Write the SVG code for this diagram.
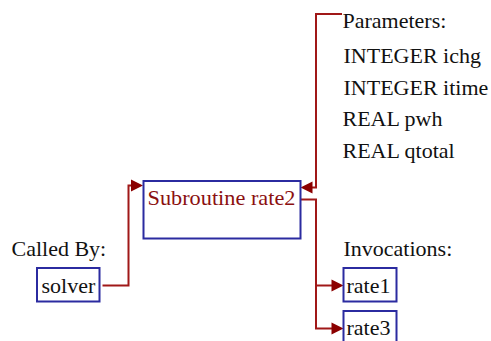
<svg xmlns="http://www.w3.org/2000/svg" width="491" height="341" viewBox="0 0 491 341">
<defs>
<style>
.box{fill:none;stroke:#2b2ba0;stroke-width:2}
.t{font-family:"Liberation Serif",serif;font-size:22px;fill:#111}
.tm{font-family:"Liberation Serif",serif;font-size:22px;fill:#8b1010}
.c{fill:none;stroke:#a01818;stroke-width:2}
.ah{fill:#8b0000}
</style>
</defs>
<rect width="491" height="341" fill="#fff"/>
<g id="connectors">
<polyline class="c" points="102.5,285.5 128.5,285.5 128.5,185.5 132,185.5"/>
<polygon class="ah" points="143,185.5 131,179.5 131,191.5"/>
<polyline class="c" points="342,14 316,14 316,187.5 312,187.5"/>
<polygon class="ah" points="300.5,187.5 312.5,181.5 312.5,193.5"/>
<polyline class="c" points="301,199.5 316,199.5 316,328.5 332,328.5"/>
<polyline class="c" points="316,285.5 332,285.5"/>
<polygon class="ah" points="343.5,285.5 331.5,279.5 331.5,291.5"/>
<polygon class="ah" points="343.5,328.5 331.5,322.5 331.5,334.5"/>
</g>
<g id="main">
<rect class="box" x="143.5" y="181" width="157" height="57.5"/>
<text class="tm" x="147.5" y="204.5" textLength="148" lengthAdjust="spacingAndGlyphs">Subroutine rate2</text>
</g>
<g id="params">
<text class="t" x="342.5" y="27.5">Parameters:</text>
<text class="t" x="343.5" y="62.5">INTEGER ichg</text>
<text class="t" x="343.5" y="94.5">INTEGER itime</text>
<text class="t" x="342.5" y="126">REAL pwh</text>
<text class="t" x="342.5" y="157.5">REAL qtotal</text>
</g>
<g id="calledby">
<text class="t" x="11.5" y="255.5">Called By:</text>
</g>
<g id="solver">
<rect class="box" x="37" y="268" width="62.5" height="33.5"/>
<text class="t" x="41.5" y="292.5">solver</text>
</g>
<g id="invocations">
<text class="t" x="343.5" y="255.5">Invocations:</text>
</g>
<g id="rate1">
<rect class="box" x="343.5" y="268" width="53" height="33.5"/>
<text class="t" x="346.5" y="292.5">rate1</text>
</g>
<g id="rate3">
<rect class="box" x="343.5" y="311" width="53" height="40"/>
<text class="t" x="346.5" y="334.5">rate3</text>
</g>
</svg>
